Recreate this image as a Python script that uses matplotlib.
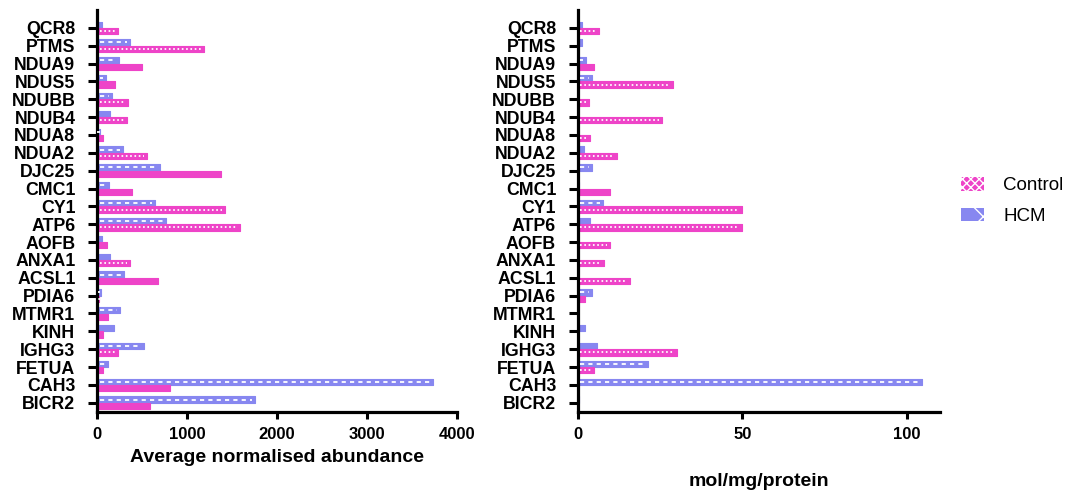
import matplotlib
matplotlib.use("Agg")
import matplotlib.pyplot as plt
from matplotlib.patches import Patch
import numpy as np

# Proteins, listed top to bottom
proteins = ["QCR8", "PTMS", "NDUA9", "NDUS5", "NDUBB", "NDUB4", "NDUA8", "NDUA2",
            "DJC25", "CMC1", "CY1", "ATP6", "AOFB", "ANXA1", "ACSL1", "PDIA6",
            "MTMR1", "KINH", "IGHG3", "FETUA", "CAH3", "BICR2"]

# Average normalised abundance
abund_control = [229, 1192, 500, 196, 340, 337, 70, 551, 1378, 392, 1418, 1592,
                 111, 367, 674, 26, 126, 70, 229, 70, 807, 592]
abund_hcm = [55, 362, 240, 100, 167, 148, 29, 284, 700, 137, 648, 767,
             56, 148, 300, 44, 259, 192, 526, 122, 3730, 1755]

# mol/mg/protein
mol_control = [6.5, 0, 5.0, 28.8, 3.3, 25.5, 3.6, 12.0, 0, 9.8, 50, 50,
               9.9, 8.1, 15.8, 2.2, 0, 0, 30.2, 4.9, 0, 0]
mol_hcm = [1.4, 1.4, 2.5, 4.4, 0, 0, 0, 1.8, 4.4, 0.5, 7.7, 3.7,
           0, 0, 0, 4.4, 0, 2.2, 5.9, 21.2, 104.4, 0.5]

PINK = "#EE44C8"
BLUE = "#8787F0"

# which bars show the white centre stripe of their fill pattern
stripe_left_c = "1100110100110101001000"
stripe_left_h = "0111101111110011101111"
stripe_right_c = "1001111110111110001100"
stripe_right_h = "0011000010100001000110"

plt.rcParams["font.family"] = ["Liberation Sans", "DejaVu Sans"]
plt.rcParams["lines.scale_dashes"] = False

W, H = 1076, 497
fig = plt.figure(figsize=(W / 100, H / 100), dpi=100)

n = len(proteins)
ypos = np.arange(n)[::-1].astype(float)
bh = 0.35
off = 0.18


def panel(rect, control, hcm, xmax, ticks, xlabel, label_y, sc, sh):
    ax = fig.add_axes(rect)
    ax.set_xlim(0, xmax)
    ax.set_ylim(-0.52, n)
    ax_w_px = rect[2] * W
    unit = xmax / ax_w_px
    for vals, dy, col, flags, dash in ((hcm, off, BLUE, sh, (3.0, 3.0)),
                                       (control, -off, PINK, sc, (1.2, 1.9))):
        ax.barh(ypos + dy, vals, height=bh, color=col, edgecolor=col,
                linewidth=0.8, joinstyle="round", zorder=2)
        for y, v, f in zip(ypos + dy, vals, flags):
            if f == "1" and v > 0:
                ax.plot([2.5 * unit, v - 3 * unit], [y, y], color="white",
                        lw=1.3, dashes=dash, zorder=3)
    ax.set_yticks(ypos)
    ax.set_yticklabels(proteins, fontsize=12.8, fontweight="bold")
    ax.set_xticks(ticks)
    ax.set_xticklabels([str(t) for t in ticks], fontsize=12, fontweight="bold")
    for s in ("top", "right"):
        ax.spines[s].set_visible(False)
    for s in ("left", "bottom"):
        ax.spines[s].set_linewidth(2.3)
    ax.tick_params(axis="y", length=6.5, width=2.2, pad=9)
    ax.tick_params(axis="x", length=5, width=2.2, pad=6)
    fig.text(rect[0] + rect[2] / 2, 1 - label_y / H, xlabel,
             ha="center", va="center", fontsize=14, fontweight="bold")
    return ax


panel([97 / W, 1 - 412 / H, 360 / W, 402 / H], abund_control, abund_hcm,
      4000, [0, 1000, 2000, 3000, 4000], "Average normalised abundance", 458,
      stripe_left_c, stripe_left_h)
panel([577.7 / W, 1 - 412 / H, 362.5 / W, 402 / H], mol_control, mol_hcm,
      110, [0, 50, 100], "mol/mg/protein", 482,
      stripe_right_c, stripe_right_h)

handles = [Patch(facecolor=PINK, edgecolor="white", hatch="xxxx", linewidth=0),
           Patch(facecolor=BLUE, edgecolor="white", hatch="x", linewidth=0)]
fig.legend(handles, ["Control", "HCM"], loc="center left",
           bbox_to_anchor=(961 / W, 1 - 201 / H), frameon=False, fontsize=13.5,
           handlelength=1.25, handleheight=0.75, labelspacing=0.72,
           handletextpad=1.0, borderpad=0, borderaxespad=0)

fig.savefig("out.png", dpi=100)
